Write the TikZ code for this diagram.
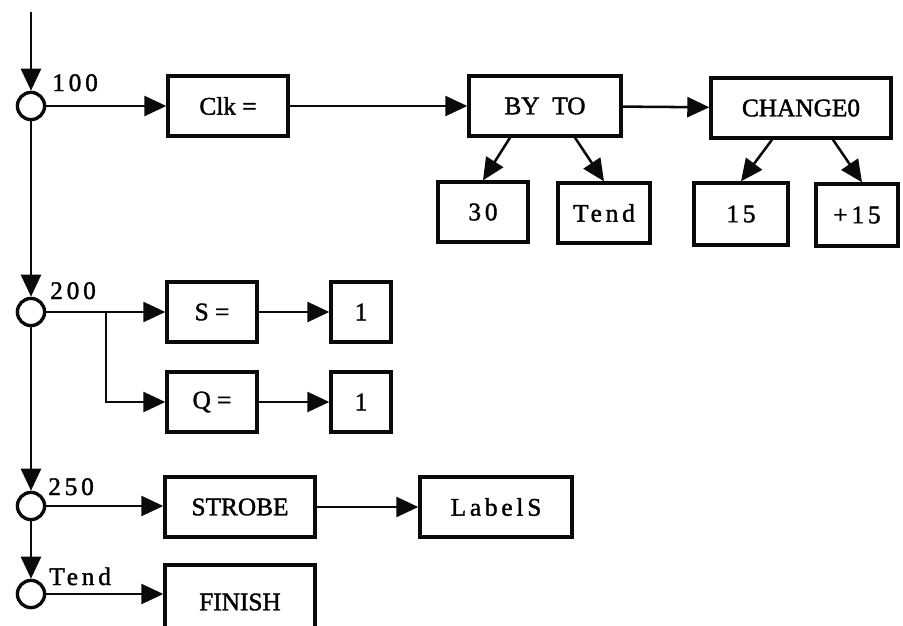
\documentclass[tikz,border=0pt]{standalone}
\usepackage{fontspec}
\setmainfont{Liberation Serif}[FakeBold=1.5]
\newfontfamily\spaced{Liberation Serif}[LetterSpace=15, FakeBold=1.5]
\usepackage{tikz}
\usetikzlibrary{arrows.meta,calc}
\definecolor{ink}{HTML}{0A0A0A}

\begin{document}
\begin{tikzpicture}[x=0.025cm, y=-0.025cm,
  box/.style={rectangle, draw=ink, line width=2.4pt, minimum height=1.5cm, inner sep=2pt, align=center, font=\fontsize{18}{20}\selectfont},
  joint/.style={circle, draw=ink, line width=2.4pt, minimum size=0.68cm, inner sep=0pt},
  tag/.style={anchor=base west, inner sep=0pt, font=\spaced\fontsize{18}{20}\selectfont},
  flow/.style={-{Triangle[length=5.5mm, width=5mm]}, draw=ink, line width=1.8pt}
]
\useasboundingbox (0,0) rectangle (903,626);
\clip (0,0) rectangle (903,626);

\coordinate (top) at (31,12);
\node[joint] (c100) at (31,106) {};
\node[joint] (c200) at (31,312) {};
\node[joint] (c250) at (31,506) {};
\node[joint] (ctend) at (31,594) {};

\node[tag] (l100) at (52,91) {100};
\node[tag] (l200) at (50,299) {200};
\node[tag] (l250) at (48,495) {250};
\node[tag] (ltend) at (49,585) {Tend};

\node[box, minimum width=3cm] (clk) at (228,106) {Clk =};
\node[box, minimum width=3.8cm] (byto) at (545,106) {BY\ \ TO};
\node[box, minimum width=4.5cm] (chg) at (801,108) {CHANGE0};
\node[box, minimum width=2.25cm, font=\spaced\fontsize{18}{20}\selectfont] (n30) at (483,212) {30};
\node[box, minimum width=2.3cm, font=\spaced\fontsize{18}{20}\selectfont] (tend) at (604,213) {Tend};
\node[box, minimum width=2.35cm, minimum height=1.55cm, font=\spaced\fontsize{18}{20}\selectfont] (n15) at (741,214) {15};
\node[box, minimum width=2.05cm, minimum height=1.55cm, font=\spaced\fontsize{18}{20}\selectfont] (p15) at (857,215) {+15};

\node[box, minimum width=2.25cm] (seq) at (212,312) {S =};
\node[box, minimum width=2.25cm] (qeq) at (212,402) {Q =};
\node[box, minimum width=1.5cm] (s1) at (361,312) {1};
\node[box, minimum width=1.5cm] (q1) at (361,402) {1};
\coordinate (fork) at (106,312);

\node[box, minimum width=3.75cm] (strobe) at (240,507) {STROBE};
\node[box, minimum width=3.8cm, font=\spaced\fontsize{18}{20}\selectfont] (labs) at (496,507) {LabelS};
\node[box, minimum width=3.75cm, minimum height=1.85cm] (finish) at (240,602) {FINISH};

% main line
\draw[flow] (top) -- (c100);
\draw[flow] (c100) -- (c200);
\draw[flow] (c200) -- (c250);
\draw[flow] (c250) -- (ctend);

% 100
\draw[flow] (c100) -- (clk);
\draw[flow] (clk) -- (byto);
\draw[flow] (byto) -- (chg);
\draw[flow] ($(byto.south)+(-35,0)$) -- (n30.north);
\draw[flow] ($(byto.south)+(30,0)$) -- (tend.north);
\draw[flow] ($(chg.south)+(-29,0)$) -- (n15.north);
\draw[flow] ($(chg.south)+(32,0)$) -- ($(p15.north)+(5,0)$);

% 200
\draw[flow] (c200) -- (seq);
\draw[flow] (fork) |- (qeq);
\draw[flow] (seq) -- (s1);
\draw[flow] (qeq) -- (q1);

% 250 and Tend
\draw[flow] (c250) -- (c250 -| strobe.west);
\draw[flow] (strobe) -- (labs);
\draw[flow] (ctend) -- (ctend -| finish.west);
\end{tikzpicture}
\end{document}
